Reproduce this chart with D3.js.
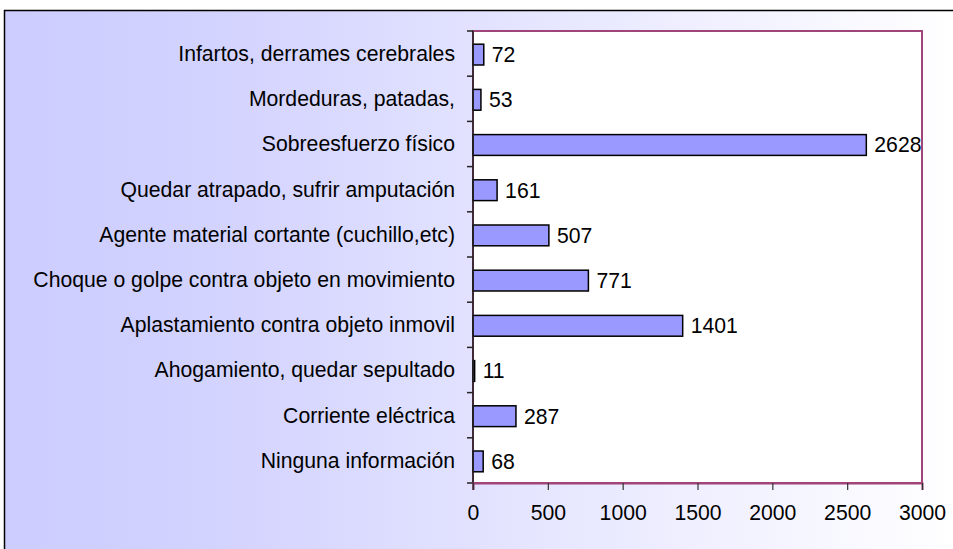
<!DOCTYPE html>
<html><head><meta charset="utf-8">
<script src="https://cdn.jsdelivr.net/npm/d3@7"></script>
<style>html,body{margin:0;padding:0;background:#fff;overflow:hidden}svg{display:block}</style>
</head><body>
<script>
const categories = ["Infartos, derrames cerebrales","Mordeduras, patadas,","Sobreesfuerzo físico","Quedar atrapado, sufrir amputación","Agente material cortante (cuchillo,etc)","Choque o golpe contra objeto en movimiento","Aplastamiento contra objeto inmovil","Ahogamiento, quedar sepultado","Corriente eléctrica","Ninguna información"];
const values = [72,53,2628,161,507,771,1401,11,287,68];
const xTicks = [0,500,1000,1500,2000,2500,3000];

(function(){
const W = 953, H = 549;
const svg = d3.select("body").append("svg").attr("width", W).attr("height", H);
const defs = svg.append("defs");
const grad = defs.append("linearGradient").attr("id","bg").attr("x1","0").attr("x2","1").attr("y1","0").attr("y2","0");
grad.append("stop").attr("offset","0").attr("stop-color","#ccccff");
grad.append("stop").attr("offset","0.25").attr("stop-color","#d4d4ff");
grad.append("stop").attr("offset","1").attr("stop-color","#ffffff");

svg.append("rect").attr("x",4.5).attr("y",10.5).attr("width",W).attr("height",H)
  .attr("fill","url(#bg)").attr("stroke","#000").attr("stroke-width",1.5);

const pL = 473, pR = 922, pT = 31, pB = 483;
const x = d3.scaleLinear().domain([0,3000]).range([pL,pR]);
const y = d3.scaleBand().domain(categories).range([pT,pB]).paddingInner(0.54).paddingOuter(0.27);
const yb = d3.scaleBand().domain(categories).range([pT,pB]);

svg.append("rect").attr("x",pL).attr("y",pT).attr("width",pR-pL).attr("height",pB-pT)
  .attr("fill","#fff").attr("stroke","#a0457a").attr("stroke-width",2);

const font = "'Liberation Sans', Arial, sans-serif";
const fs = 21.2;

svg.selectAll(".bar").data(values).enter().append("rect")
  .attr("x", x(0)).attr("y",(d,i)=>y(categories[i])+1)
  .attr("width", d=>x(d)-x(0)).attr("height", y.bandwidth())
  .attr("fill","#9999ff").attr("stroke","#000").attr("stroke-width",1.5);

svg.selectAll(".val").data(values).enter().append("text")
  .attr("x", d=>x(d)+8).attr("y",(d,i)=>yb(categories[i])+yb.bandwidth()/2+1)
  .attr("dy","0.35em").attr("font-family",font).attr("font-size",fs).attr("fill","#000")
  .text(d=>d);

const yAxisG = svg.append("g");
yAxisG.append("line").attr("x1",pL).attr("x2",pL).attr("y1",pT).attr("y2",pB+7).attr("stroke","#222").attr("stroke-width",1.5);
const boundaries = categories.map(c=>yb(c)).concat([pB]);
yAxisG.selectAll(".yt").data(boundaries).enter().append("line")
  .attr("x1",pL-6).attr("x2",pL).attr("y1",d=>d).attr("y2",d=>d).attr("stroke","#222").attr("stroke-width",1.5);
yAxisG.selectAll(".yl").data(categories).enter().append("text")
  .attr("x",455).attr("y",d=>yb(d)+yb.bandwidth()/2).attr("dy","0.35em")
  .attr("text-anchor","end").attr("font-family",font).attr("font-size",fs).attr("fill","#000")
  .text(d=>d);

const xAxis = d3.axisBottom(x).tickValues(xTicks).tickSize(7).tickPadding(15).tickFormat(d3.format("d"));
const xg = svg.append("g").attr("transform",`translate(0,${pB})`).call(xAxis);
xg.select(".domain").attr("stroke","#a0457a").attr("stroke-width",2);
xg.selectAll(".tick line").attr("stroke","#333").attr("stroke-width",1.2);
xg.selectAll(".tick text").attr("font-family",font).attr("font-size",fs).attr("fill","#000");
})();
</script>
</body></html>
